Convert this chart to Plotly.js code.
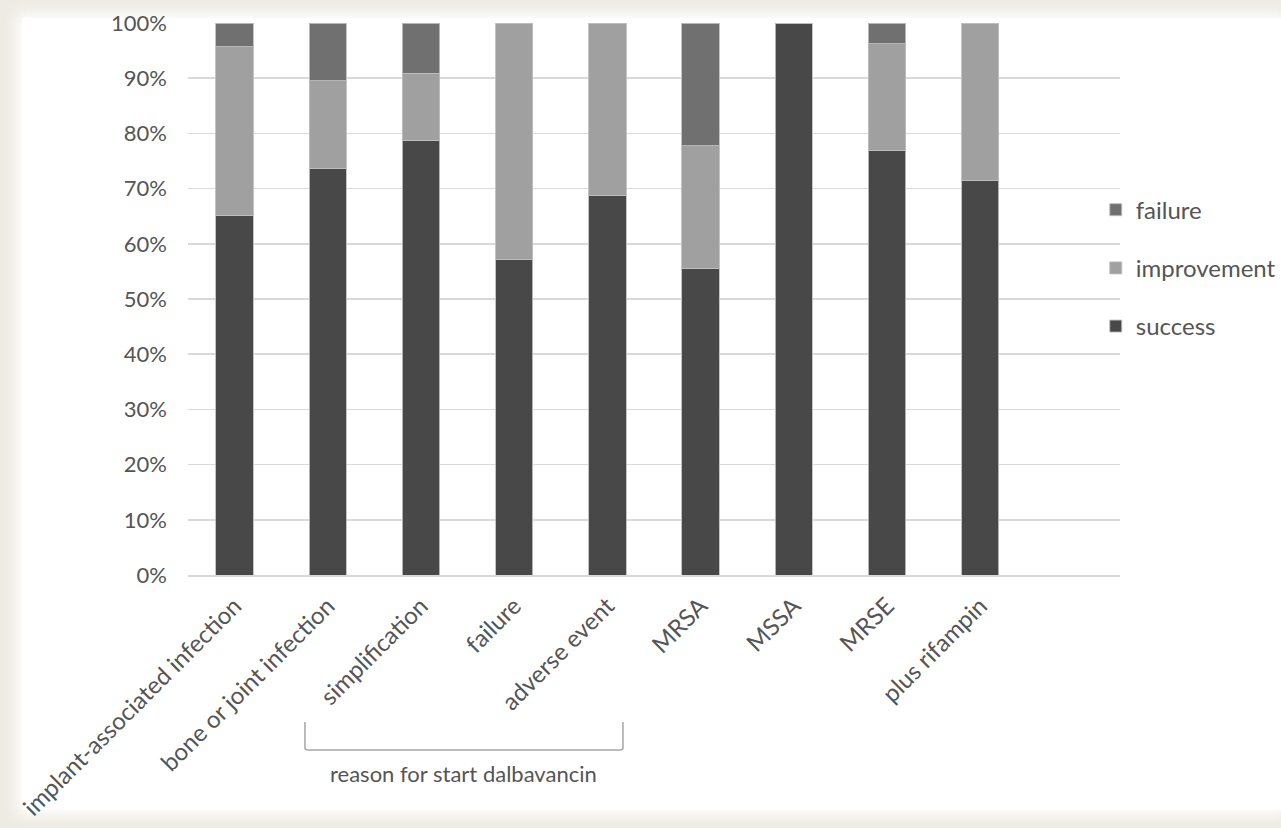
<!DOCTYPE html>
<html>
<head>
<meta charset="utf-8">
<script src="https://cdn.plot.ly/plotly-3.0.1.min.js"></script>
<style>
  html, body { margin: 0; padding: 0; width: 1281px; height: 828px; overflow: hidden; background: #eeebe3; }
  #paper { position: absolute; left: 22px; top: 18px; width: 1259px; height: 792px; background: #ffffff; box-shadow: 0 0 14px 5px #ffffff; }
  #chart { position: absolute; left: 0; top: 0; width: 1281px; height: 828px; }
</style>
</head>
<body>
<div id="paper"></div>
<div id="chart"></div>
<script>
const categories = ["implant-associated infection", "bone or joint infection", "simplification", "failure", "adverse event", "MRSA", "MSSA", "MRSE", "plus rifampin"];
const success     = [65.2, 73.7, 78.8, 57.1, 68.8, 55.6, 100, 76.9, 71.4];
const improvement = [30.5, 15.8, 12.1, 42.9, 31.2, 22.2, 0, 19.3, 28.6];
const failure     = [4.3, 10.5, 9.1, 0, 0, 22.2, 0, 3.8, 0];
const seriesNames = ["success", "improvement", "failure"];
const seriesColors = ["#484848", "#a0a0a0", "#707070"];
const groupLabel = "reason for start dalbavancin";

const font = "Lato, 'Open Sans', sans-serif";
const txt = "#555555";
const seriesData = [success, improvement, failure];
const traces = seriesData.map((vals, i) => ({
  type: "bar",
  name: seriesNames[i],
  legendgroup: seriesNames[i],
  legendrank: 3 - i,
  x: categories,
  y: vals,
  marker: { color: seriesColors[i], line: { color: "rgba(190,190,190,0.9)", width: 1 } },
  hoverinfo: "x+y+name"
}));

const layout = {
  width: 1281, height: 828,
  margin: { l: 188, r: 161, t: 23, b: 253, autoexpand: false },
  paper_bgcolor: "rgba(0,0,0,0)",
  plot_bgcolor: "rgba(0,0,0,0)",
  barmode: "stack",
  bargap: 0.6,
  showlegend: true,
  font: { family: font, color: txt, size: 22 },
  xaxis: {
    type: "category",
    range: [-0.5, 9.5],
    tickangle: -45,
    tickfont: { family: font, size: 24, color: txt },
    showgrid: false,
    showline: true, linecolor: "#d9d9d9", linewidth: 1.5,
    ticks: "",
    ticklabelstandoff: 6,
    fixedrange: true
  },
  yaxis: {
    range: [0, 100],
    dtick: 10,
    ticksuffix: "%",
    tickfont: { family: font, size: 22, color: txt },
    showgrid: true, gridcolor: "#d9d9d9", gridwidth: 1.5,
    zeroline: false,
    ticks: "",
    ticklabelstandoff: 20,
    fixedrange: true
  },
  legend: {
    x: 0.974, xanchor: "left",
    y: 0.556, yanchor: "middle",
    traceorder: "grouped",
    tracegroupgap: 24,
    bgcolor: "rgba(0,0,0,0)",
    font: { family: font, size: 24, color: txt }
  },
  shapes: [{
    type: "path", xref: "paper", yref: "paper",
    path: "M0.1255,-0.2663 L0.1255,-0.3134 Q0.1255,-0.317 0.129,-0.317 L0.4632,-0.317 Q0.4667,-0.317 0.4667,-0.3134 L0.4667,-0.2663",
    line: { color: "#a6a6a6", width: 1.5 }
  }],
  annotations: [{
    xref: "paper", yref: "paper",
    x: 0.296, y: -0.3587, xanchor: "center", yanchor: "middle",
    text: groupLabel, showarrow: false,
    font: { family: font, size: 22, color: txt }
  }]
};

Plotly.newPlot("chart", traces, layout, { displayModeBar: false, staticPlot: true });
</script>
</body>
</html>
